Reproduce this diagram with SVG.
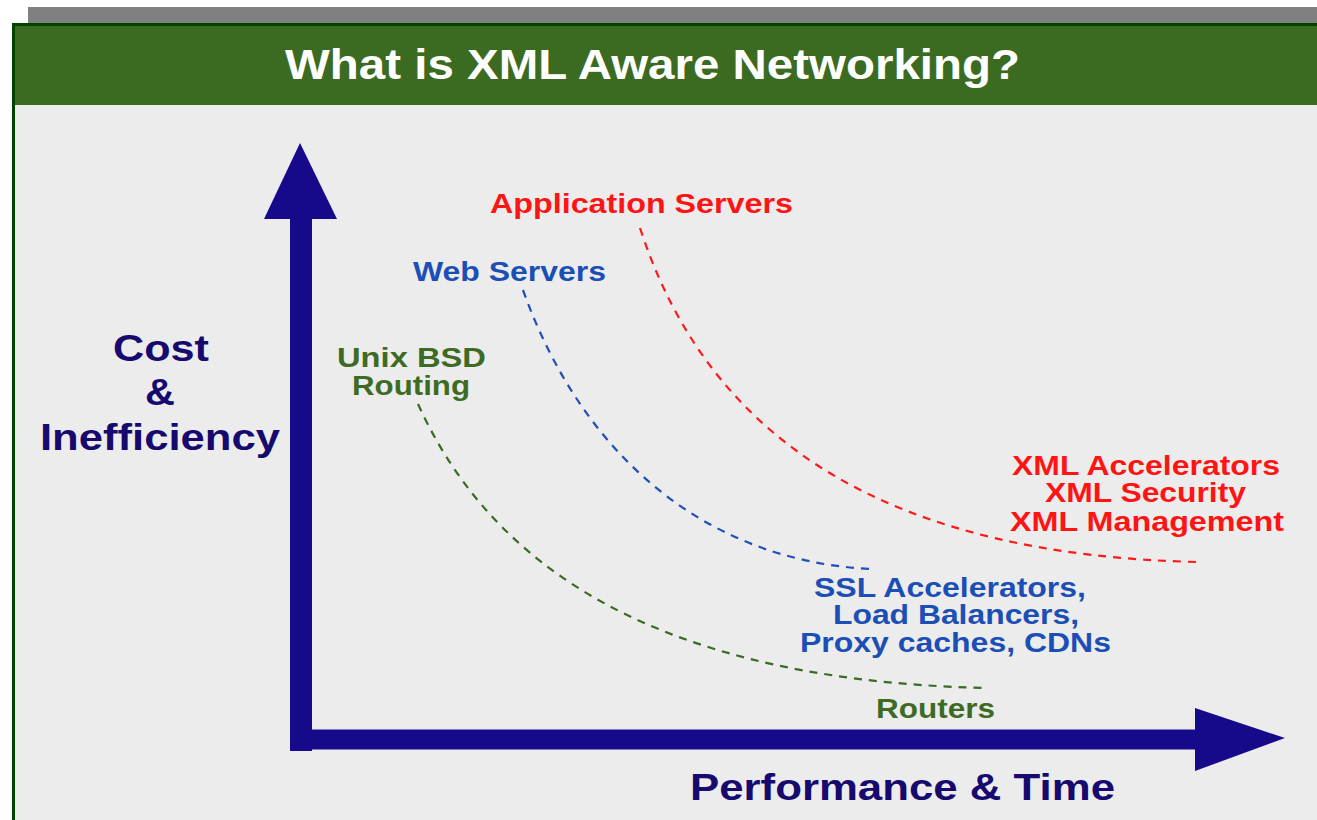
<svg xmlns="http://www.w3.org/2000/svg" width="1317" height="820" viewBox="0 0 1317 820">
<style>
text{font-family:"Liberation Sans",Arial,sans-serif;font-weight:bold}
.t{fill:#ffffff;font-size:43px}
.ax{fill:#170a8a}
.axl{fill:#170a6e;font-size:37px}
.red{fill:#ff1414;font-size:27px}
.blue{fill:#1c4fb5;font-size:27px}
.grn{fill:#3e6b24;font-size:27px}
.c{fill:none;stroke-width:2.2;stroke-dasharray:8 7}
</style>
<rect x="0" y="0" width="1317" height="820" fill="#ffffff"/>
<rect x="28" y="7" width="1289" height="16" fill="#808080"/>
<g id="frame">
<rect x="12" y="23" width="1305" height="797" fill="#004400"/>
<rect x="15" y="26" width="1302" height="79" fill="#3b6b21"/>
<rect x="15" y="105" width="1302" height="715" fill="#ececec"/>
</g>
<g id="title"><text class="t" x="285" y="79" textLength="735" lengthAdjust="spacingAndGlyphs">What is XML Aware Networking?</text></g>
<g id="y-axis">
<rect class="ax" x="290" y="215" width="22" height="536"/>
<polygon class="ax" points="300,143 264,219 337,219"/>
<text class="axl" x="113" y="361" textLength="96" lengthAdjust="spacingAndGlyphs">Cost</text>
<text class="axl" x="145" y="405" textLength="30" lengthAdjust="spacingAndGlyphs">&amp;</text>
<text class="axl" x="40" y="450" textLength="240" lengthAdjust="spacingAndGlyphs">Inefficiency</text>
</g>
<g id="x-axis">
<rect class="ax" x="290" y="729.5" width="910" height="20"/>
<polygon class="ax" points="1195,708 1285,738 1195,771"/>
<text class="axl" x="690" y="800" textLength="425" lengthAdjust="spacingAndGlyphs">Performance &amp; Time</text>
</g>
<g id="connectors">
<path class="c" stroke="#ff1a1a" d="M640,228 C712,450 900,555 1197,562"/>
<path class="c" stroke="#1e50b8" d="M523,290 C580,450 700,560 870,569"/>
<path class="c" stroke="#3b6a22" d="M418,404 C480,540 620,680 987,688"/>
</g>
<g id="app-servers">
<text class="red" x="490" y="213" textLength="303" lengthAdjust="spacingAndGlyphs">Application Servers</text>
</g>
<g id="web-servers">
<text class="blue" x="413" y="281" textLength="193" lengthAdjust="spacingAndGlyphs">Web Servers</text>
</g>
<g id="unix-bsd">
<text class="grn" x="337" y="367" textLength="149" lengthAdjust="spacingAndGlyphs">Unix BSD</text>
<text class="grn" x="352" y="395" textLength="118" lengthAdjust="spacingAndGlyphs">Routing</text>
</g>
<g id="xml">
<text class="red" x="1012" y="475" textLength="268" lengthAdjust="spacingAndGlyphs">XML Accelerators</text>
<text class="red" x="1045" y="502" textLength="201" lengthAdjust="spacingAndGlyphs">XML Security</text>
<text class="red" x="1010" y="531" textLength="274" lengthAdjust="spacingAndGlyphs">XML Management</text>
</g>
<g id="ssl">
<text class="blue" x="814" y="597" textLength="272" lengthAdjust="spacingAndGlyphs">SSL Accelerators,</text>
<text class="blue" x="833" y="624" textLength="246" lengthAdjust="spacingAndGlyphs">Load Balancers,</text>
<text class="blue" x="800" y="652" textLength="311" lengthAdjust="spacingAndGlyphs">Proxy caches, CDNs</text>
</g>
<g id="routers">
<text class="grn" x="876" y="718" textLength="119" lengthAdjust="spacingAndGlyphs">Routers</text>
</g>
</svg>
